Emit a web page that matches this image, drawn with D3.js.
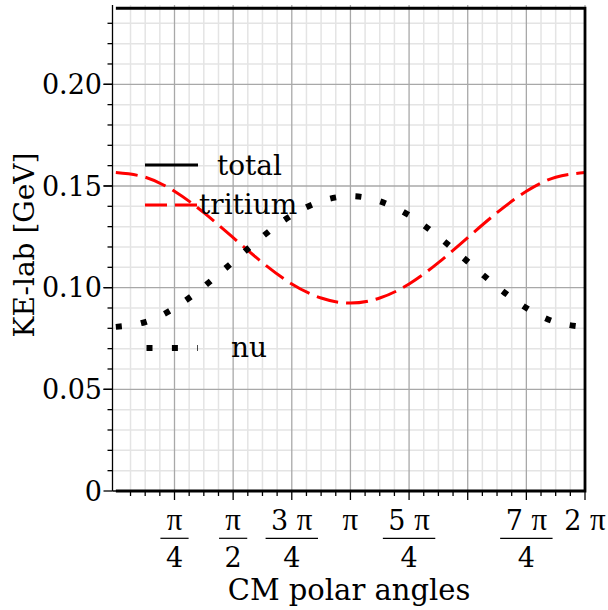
<!DOCTYPE html>
<html>
<head>
<meta charset="utf-8">
<script src="https://cdn.jsdelivr.net/npm/d3@7"></script>
<style>
  body { margin: 0; background: #fff; }
  text { font-family: "DejaVu Serif", serif; fill: #000; }
  .pi { font-family: "Liberation Serif", serif; }
</style>
</head>
<body>
<div id="chart"></div>
<script>
// angles in units of pi, sampled every pi/8
const anglesPi = [0, 0.125, 0.25, 0.375, 0.5, 0.625, 0.75, 0.875, 1,
  1.125, 1.25, 1.375, 1.5, 1.625, 1.75, 1.875, 2];
const tritium = [0.1566, 0.1543, 0.1474, 0.1369, 0.1246, 0.1123, 0.1018, 0.0949, 0.0924,
  0.0949, 0.1018, 0.1123, 0.1246, 0.1369, 0.1474, 0.1543, 0.1566];
const nu = [0.0807, 0.0831, 0.0900, 0.1005, 0.1128, 0.1251, 0.1356, 0.1425, 0.1450,
  0.1425, 0.1356, 0.1251, 0.1128, 0.1005, 0.0900, 0.0831, 0.0807];
// total drawn as maple did it: flat top, down the right side, back along zero
const totalAnglesPi = [0, 2, 2, 0];
const totalValues = [0.2374, 0.2374, 0, 0];

const yTicks = [0, 0.05, 0.10, 0.15, 0.20];
const yTickLabels = ["0", "0.05", "0.10", "0.15", "0.20"];
// x tick labels: [coefficient, denominator]; "" coefficient = just pi
const xTickLabels = [["", "4"], ["", "2"], ["3", "4"], ["", null],
  ["5", "4"], null, ["7", "4"], ["2", null]];

const width = 608, height = 610;
const margin = {top: 5, right: 23, bottom: 119, left: 112.5};

const x = d3.scaleLinear()
  .domain([-0.045, 2 * Math.PI])
  .range([margin.left, width - margin.right]);
const y = d3.scaleLinear()
  .domain([0, 0.239])
  .range([height - margin.bottom, margin.top]);

const svg = d3.select("#chart").append("svg")
  .attr("width", width)
  .attr("height", height);

const x0 = margin.left, x1 = width - margin.right;
const y0 = height - margin.bottom, y1 = margin.top;

// grid
const minorX = d3.range(1, 33).map(k => k * Math.PI / 16);
const minorY = d3.range(1, 24).map(k => k / 100);
const grid = svg.append("g");
grid.selectAll(".vmin").data(minorX.filter((d, i) => (i + 1) % 4 !== 0)).join("line")
  .attr("x1", d => x(d)).attr("x2", d => x(d)).attr("y1", y1).attr("y2", y0)
  .attr("stroke", "#e4e4e4").attr("stroke-width", 1.5);
grid.selectAll(".hmin").data(minorY.filter((d, i) => (i + 1) % 5 !== 0)).join("line")
  .attr("y1", d => y(d)).attr("y2", d => y(d)).attr("x1", x0).attr("x2", x1)
  .attr("stroke", "#e4e4e4").attr("stroke-width", 1.5);
grid.selectAll(".vmaj").data(minorX.filter((d, i) => (i + 1) % 4 === 0)).join("line")
  .attr("x1", d => x(d)).attr("x2", d => x(d)).attr("y1", y1).attr("y2", y0)
  .attr("stroke", "#a8a8a8").attr("stroke-width", 1.3);
grid.selectAll(".hmaj").data(yTicks.slice(1)).join("line")
  .attr("y1", d => y(d)).attr("y2", d => y(d)).attr("x1", x0).attr("x2", x1)
  .attr("stroke", "#a8a8a8").attr("stroke-width", 1.3);

// axes
const axes = svg.append("g").attr("stroke", "#000");
axes.append("line").attr("x1", x0).attr("x2", x1).attr("y1", y0).attr("y2", y0).attr("stroke-width", 1.3);
axes.append("line").attr("x1", x0).attr("x2", x0).attr("y1", y0).attr("y2", y1).attr("stroke-width", 1.3);
axes.selectAll(".xt").data(minorX).join("line")
  .attr("x1", d => x(d)).attr("x2", d => x(d)).attr("y1", y0)
  .attr("y2", (d, i) => y0 + ((i + 1) % 4 === 0 ? 9 : 5)).attr("stroke-width", 1.3);
axes.selectAll(".yt").data(minorY.concat(yTicks)).join("line")
  .attr("y1", d => y(d)).attr("y2", d => y(d)).attr("x2", x0)
  .attr("x1", d => x0 - (Math.round(d * 100) % 5 === 0 ? 9 : 5)).attr("stroke-width", 1.3);

// y tick labels
svg.append("g").selectAll("text").data(yTicks).join("text")
  .attr("x", 102).attr("y", d => y(d)).attr("dy", "0.36em")
  .attr("text-anchor", "end").attr("font-size", 27)
  .text((d, i) => yTickLabels[i]);

// x tick labels as fractions
const xl = svg.append("g").attr("font-size", 27).attr("text-anchor", "middle");
function piText(g, cx, cy, coef) {
  const t = g.append("text").attr("x", cx).attr("y", cy);
  if (coef) t.append("tspan").text(coef + " ");
  t.append("tspan").attr("class", "pi").attr("font-size", 31).text("π");
  return t;
}
xTickLabels.forEach((lab, i) => {
  if (!lab) return;
  const [coef, den] = lab;
  const cx = x((i + 1) * Math.PI / 4);
  const t = piText(xl, cx, 530, coef);
  if (den !== null) {
    const b = xl.append("text").attr("x", cx).attr("y", 567).text(den);
    const w = Math.max(t.node().getComputedTextLength(), b.node().getComputedTextLength()) + 11;
    xl.append("line").attr("x1", cx - w / 2).attr("x2", cx + w / 2)
      .attr("y1", 538.3).attr("y2", 538.3).attr("stroke", "#000").attr("stroke-width", 1.2);
  }
});

// axis titles
svg.append("text").attr("x", 349).attr("y", 600).attr("text-anchor", "middle")
  .attr("font-size", 29).text("CM polar angles");
svg.append("text").attr("transform", "translate(34,245) rotate(-90)")
  .attr("text-anchor", "middle").attr("font-size", 28).text("KE-lab [GeV]");

// curves
const line = d3.line().x(d => x(d[0] * Math.PI)).y(d => y(d[1])).curve(d3.curveNatural);
svg.append("path").datum(anglesPi.map((a, i) => [a, tritium[i]]))
  .attr("d", line).attr("fill", "none").attr("stroke", "#ff0000")
  .attr("stroke-width", 3).attr("stroke-dasharray", "22 8");
svg.append("path").datum(anglesPi.map((a, i) => [a, nu[i]]))
  .attr("d", line).attr("fill", "none").attr("stroke", "#000")
  .attr("stroke-width", 6).attr("stroke-dasharray", "6 19.4");
const totalLine = d3.line().x(d => x(d[0] * Math.PI)).y(d => y(d[1])).curve(d3.curveLinear);
svg.append("path")
  .attr("d", totalLine(totalAnglesPi.map((a, i) => [a, totalValues[i]])))
  .attr("fill", "none").attr("stroke", "#000").attr("stroke-width", 2.8);

// legend
const legend = [
  {name: "total", color: "#000", w: 2.8, dash: null, ly: 165, lx0: 145, tx: 217, ty: 175},
  {name: "tritium", color: "#ff0000", w: 3, dash: "22 8", ly: 205, lx0: 145, tx: 199, ty: 214},
  {name: "nu", color: "#000", w: 6, dash: "6 19.4", ly: 348, lx0: 146.5, tx: 231, ty: 357}
];
const lg = svg.append("g");
legend.forEach(l => {
  lg.append("line").attr("x1", l.lx0).attr("x2", 198).attr("y1", l.ly).attr("y2", l.ly)
    .attr("stroke", l.color).attr("stroke-width", l.w).attr("stroke-dasharray", l.dash);
  lg.append("text").attr("x", l.tx).attr("y", l.ty).attr("font-size", 28).text(l.name);
});
</script>
</body>
</html>
